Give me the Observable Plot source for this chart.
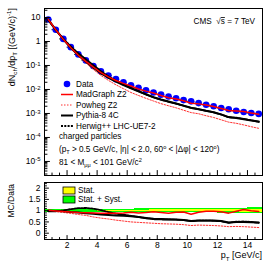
<!DOCTYPE html>
<html><head><meta charset="utf-8">
<script src="https://cdn.jsdelivr.net/npm/d3@7"></script>
<script src="https://cdn.jsdelivr.net/npm/@observablehq/plot@0.6"></script>
<style>
body{margin:0;background:#fff;}
#chart{position:relative;width:266px;height:266px;background:#fff;}
#chart svg{position:absolute;left:0;overflow:visible;}
</style></head><body><div id="chart"></div>
<script>
const FONT = '"Liberation Sans", Arial, Helvetica, sans-serif';

// ---- data ----
const ptCenters = [0.75,1.25,1.75,2.25,2.75,3.25,3.75,4.25,4.75,5.25,5.75,6.25,6.75,7.25,7.75,8.25,8.75,9.25,9.75,10.25,10.75,11.25,11.75,12.25,12.75,13.25,13.75,14.25,14.75];
const binHalfWidth = 0.25;
const dataValues = [8.2,3.1,1.28,0.58,0.29,0.163,0.095,0.057,0.038,0.027,0.020,0.015,0.0117,0.0093,0.0075,0.0061,0.0051,0.0043,0.0036,0.0032,0.0027,0.0023,0.0020,0.0017,0.0015,0.0013,0.00115,0.00104,0.00096];
const ratioMadGraph = [1.02,0.99,0.96,0.94,0.92,0.91,0.90,0.89,0.88,0.88,0.90,0.93,0.90,0.92,0.95,0.92,0.89,0.93,0.94,0.84,0.93,0.97,0.97,0.95,0.89,0.97,1.05,1.00,0.96];
const ratioPowheg   = [1.00,0.96,0.92,0.88,0.83,0.79,0.72,0.67,0.63,0.58,0.54,0.50,0.48,0.46,0.44,0.42,0.41,0.40,0.38,0.34,0.36,0.35,0.34,0.32,0.29,0.30,0.29,0.27,0.25];
const ratioPythia   = [1.00,0.99,0.97,0.94,0.92,0.89,0.86,0.83,0.81,0.79,0.77,0.75,0.72,0.68,0.64,0.63,0.62,0.61,0.59,0.54,0.56,0.56,0.56,0.54,0.47,0.50,0.50,0.49,0.48];
const ratioHerwig   = [0.97,0.97,1.01,1.07,1.11,1.12,1.09,1.02,0.94,0.87,0.82,0.77,0.72,0.66,0.62,0.61,0.60,0.60,0.58,0.53,0.56,0.56,0.55,0.53,0.46,0.51,0.52,0.50,0.46];
const statUnc = [0.01,0.01,0.01,0.01,0.01,0.01,0.01,0.015,0.015,0.02,0.02,0.02,0.025,0.025,0.03,0.03,0.03,0.035,0.035,0.04,0.04,0.045,0.045,0.05,0.05,0.055,0.06,0.06,0.065];
const totUnc  = [0.06,0.06,0.06,0.06,0.06,0.06,0.06,0.065,0.065,0.07,0.07,0.07,0.075,0.075,0.08,0.08,0.085,0.085,0.09,0.09,0.095,0.10,0.10,0.105,0.11,0.11,0.115,0.12,0.12];

const legendLabels = ["Data","MadGraph Z2","Powheg Z2","Pythia-8 4C","Herwig++ LHC-UE7-2"];
const bandLabels = ["Stat.","Stat. + Syst."];
const yMajorTicks = [10,1,0.1,0.01,0.001,0.0001,0.00001];
const yMajorLabels = ["10","1","10^-1","10^-2","10^-3","10^-4","10^-5"];
const rMajorTicks = [0,0.5,1,1.5,2];
const rMajorLabels = ["0","0.5","1","1.5","2"];
const xMajorTicks = [2,4,6,8,10,12,14];
const xMajorLabels = ["2","4","6","8","10","12","14"];

const xDomain = [0.5, 15];
const yDomain = [2.6e-6, 23.7];
const rDomain = [-0.28, 2.25];

// ---- derived tables ----
const rows = ptCenters.map((p, i) => ({
  pt: p, lo: p - binHalfWidth, hi: p + binHalfWidth,
  data: dataValues[i],
  mg: ratioMadGraph[i] * dataValues[i], pw: ratioPowheg[i] * dataValues[i],
  py: ratioPythia[i] * dataValues[i], hw: ratioHerwig[i] * dataValues[i],
  rmg: ratioMadGraph[i], rpw: ratioPowheg[i], rpy: ratioPythia[i], rhw: ratioHerwig[i],
  stat: statUnc[i], tot: totUnc[i]
}));
const yMinorTicks = [];
for (let e = -6; e <= 1; e++) for (let m = 2; m <= 9; m++) {
  const v = m * Math.pow(10, e);
  if (v > yDomain[0] && v < yDomain[1]) yMinorTicks.push(v);
}
const xMinorTicks = d3.range(1, 15, 0.5).filter(v => !xMajorTicks.includes(v));
const rMinorTicks = d3.range(-0.2, 2.21, 0.1).map(v => +v.toFixed(2)).filter(v => !rMajorTicks.includes(v));

const styles = {
  mg: {stroke: "#ff0000", strokeWidth: 1.5},
  pw: {stroke: "#ff3030", strokeWidth: 1, strokeDasharray: "1.5,1.5"},
  py: {stroke: "#000000", strokeWidth: 2},
  hw: {stroke: "#000000", strokeWidth: 1.8, strokeDasharray: "2,1.3"}
};

const tickShape = {draw(context, l) { context.moveTo(0, 0); context.lineTo(0, -l); }};
const ticksLeft = (values, length) => Plot.vector(values, {y: d => d, frameAnchor: "left", rotate: 90, length, anchor: "start", shape: tickShape, stroke: "black", strokeWidth: 1});
const ticksBottom = (values, length) => Plot.vector(values, {x: d => d, frameAnchor: "bottom", rotate: 0, length, anchor: "start", shape: tickShape, stroke: "black", strokeWidth: 1});

const yLabelMap = new Map(yMajorTicks.map((t, i) => [t, yMajorLabels[i]]));
const rLabelMap = new Map(rMajorTicks.map((t, i) => [t, rMajorLabels[i]]));
const xLabelMap = new Map(xMajorTicks.map((t, i) => [t, xMajorLabels[i]]));

// ---- top panel ----
const topPlot = Plot.plot({
  width: 266, height: 178,
  marginTop: 8, marginBottom: 3, marginLeft: 44, marginRight: 4,
  style: {fontFamily: FONT, fontSize: "8.5px", background: "transparent", color: "black", overflow: "visible"},
  x: {domain: xDomain, axis: null},
  y: {type: "log", domain: yDomain},
  marks: [
    Plot.ruleY(rows, {y: "data", x1: "lo", x2: "hi", stroke: "#222", strokeWidth: 1}),
    Plot.dot(rows, {x: "pt", y: "data", r: 3.3, fill: "#0000ff", stroke: "none"}),
    Plot.line(rows, {x: "pt", y: "pw", ...styles.pw}),
    Plot.line(rows, {x: "pt", y: "hw", ...styles.hw}),
    Plot.line(rows, {x: "pt", y: "py", ...styles.py}),
    Plot.line(rows, {x: "pt", y: "mg", ...styles.mg}),
    Plot.frame({stroke: "black", strokeWidth: 1}),
    Plot.axisY(yMajorTicks, {anchor: "left", tickSize: 0, tickPadding: 4, tickFormat: d => yLabelMap.get(d), label: null, fontSize: 8.5}),
    ticksLeft(yMajorTicks, 5),
    ticksLeft(yMinorTicks, 2.5),
    ticksBottom(xMajorTicks, 5),
    ticksBottom(xMinorTicks, 2.5)
  ]
});

// ---- ratio panel ----
const botPlot = Plot.plot({
  width: 266, height: 90,
  marginTop: 6, marginBottom: 27, marginLeft: 44, marginRight: 4,
  style: {fontFamily: FONT, fontSize: "8.5px", background: "transparent", color: "black", overflow: "visible"},
  x: {domain: xDomain},
  y: {domain: rDomain},
  marks: [
    Plot.rect(rows, {x1: "lo", x2: "hi", y1: d => 1 - d.tot, y2: d => 1 + d.tot, fill: "#00ff00", shapeRendering: "crispEdges"}),
    Plot.rect(rows, {x1: "lo", x2: "hi", y1: d => 1 - d.stat, y2: d => 1 + d.stat, fill: "#ffff00", shapeRendering: "crispEdges"}),
    Plot.line(rows, {x: "pt", y: "rpw", ...styles.pw}),
    Plot.line(rows, {x: "pt", y: "rhw", ...styles.hw}),
    Plot.line(rows, {x: "pt", y: "rpy", ...styles.py}),
    Plot.line(rows, {x: "pt", y: "rmg", ...styles.mg}),
    Plot.frame({stroke: "black", strokeWidth: 1}),
    Plot.axisY(rMajorTicks, {anchor: "left", tickSize: 0, tickPadding: 4, tickFormat: d => rLabelMap.get(d), label: null, fontSize: 8.5}),
    Plot.axisX(xMajorTicks, {anchor: "bottom", tickSize: 0, tickPadding: 2, tickFormat: d => xLabelMap.get(d), label: null, fontSize: 8.5}),
    ticksLeft(rMajorTicks, 4),
    ticksLeft(rMinorTicks, 2),
    ticksBottom(xMajorTicks, 4),
    ticksBottom(xMinorTicks, 2)
  ]
});

const chart = document.getElementById("chart");
topPlot.style.top = "0px";
botPlot.style.top = "176px";
chart.appendChild(topPlot);
chart.appendChild(botPlot);

// superscript labels like 10^-1
d3.select(topPlot).selectAll("text").each(function() {
  const s = this.textContent;
  if (s.includes("^")) {
    const [base, exp] = s.split("^");
    const t = d3.select(this);
    t.text(null);
    t.append("tspan").text(base);
    t.append("tspan").attr("dy", "-0.45em").attr("font-size", "6px").text(exp);
  }
});

// rich text helper: parts = [[text, "n"|"sub"|"sup"], ...]
function richText(sel, parts, size) {
  let shift = 0;
  parts.forEach(([txt, kind]) => {
    const ts = sel.append("tspan").text(txt);
    let target = 0;
    if (kind === "sub") target = 0.3 * size;
    if (kind === "sup") target = -0.4 * size;
    if (target !== shift) { ts.attr("dy", target - shift); shift = target; }
    if (kind !== "n") ts.attr("font-size", size * 0.68);
  });
}

const st = d3.select(topPlot);
const g = st.append("g").attr("font-family", FONT).attr("fill", "black").attr("text-anchor", "start");

// y title
const yt = g.append("text").attr("font-size", 9).attr("text-anchor", "end")
  .attr("transform", "translate(14.5,8) rotate(-90)");
richText(yt, [["dN","n"],["ch","sub"],["/dp","n"],["T","sub"],[" [(GeV/c)","n"],["-1","sup"],["]","n"]], 9);

// CMS label
const cms = g.append("text").attr("font-size", 8.2).attr("x", 255).attr("y", 24).attr("text-anchor", "end");
cms.append("tspan").text("CMS  \u221A");
cms.append("tspan").attr("text-decoration", "overline").text("s");
cms.append("tspan").text(" = 7 TeV");

// legend
const legY0 = 84, legStep = 10.5, legX0 = 61, legX1 = 73, legTX = 76;
const legKeys = ["data","mg","pw","py","hw"];
legKeys.forEach((k, i) => {
  const y = legY0 + i * legStep;
  if (k === "data") {
    g.append("circle").attr("cx", (legX0 + legX1) / 2).attr("cy", y).attr("r", 3.3).attr("fill", "#0000ff");
  } else {
    const s = styles[k];
    g.append("line").attr("x1", legX0).attr("x2", legX1).attr("y1", y).attr("y2", y)
      .attr("stroke", s.stroke).attr("stroke-width", s.strokeWidth)
      .attr("stroke-dasharray", s.strokeDasharray || null);
  }
  g.append("text").attr("x", legTX).attr("y", y).attr("dy", "0.35em").attr("font-size", 8.2).attr("text-anchor", "start").text(legendLabels[i]);
});

// selection annotation
const a1 = g.append("text").attr("x", 59).attr("y", 139).attr("font-size", 8.2).attr("text-anchor", "start");
a1.text("charged particles");
const a2 = g.append("text").attr("x", 59).attr("y", 152).attr("font-size", 8.2).attr("text-anchor", "start");
richText(a2, [["(p","n"],["T","sub"],[" > 0.5 GeV/c, |\u03B7| < 2.0, 60","n"],["o","sup"],[" < |\u0394\u03C6| < 120","n"],["o","sup"],[")","n"]], 8.2);
const a3 = g.append("text").attr("x", 59).attr("y", 165).attr("font-size", 8.2).attr("text-anchor", "start");
richText(a3, [["81 < M","n"],["\u03BC\u03BC","sub"],[" < 101 GeV/c","n"],["2","sup"]], 8.2);

// ratio panel decorations
const sb = d3.select(botPlot);
const gb = sb.append("g").attr("font-family", FONT).attr("fill", "black").attr("text-anchor", "start");
gb.append("text").attr("font-size", 8.5).attr("text-anchor", "end")
  .attr("transform", "translate(14,8) rotate(-90)").text("MC/Data");
const bandColors = ["#ffff00", "#00ff00"];
bandLabels.forEach((lab, i) => {
  const y = 11 + i * 9;
  gb.append("rect").attr("x", 63).attr("y", y).attr("width", 12).attr("height", 7)
    .attr("fill", bandColors[i]).attr("stroke", "black").attr("stroke-width", 0.8);
  gb.append("text").attr("x", 78).attr("y", y + 3.5).attr("dy", "0.35em").attr("font-size", 8.2).attr("text-anchor", "start").text(lab);
});
const xt = gb.append("text").attr("font-size", 9).attr("text-anchor", "end").attr("x", 262).attr("y", 82);
richText(xt, [["p","n"],["T","sub"],[" [GeV/c]","n"]], 9);
</script></body></html>
